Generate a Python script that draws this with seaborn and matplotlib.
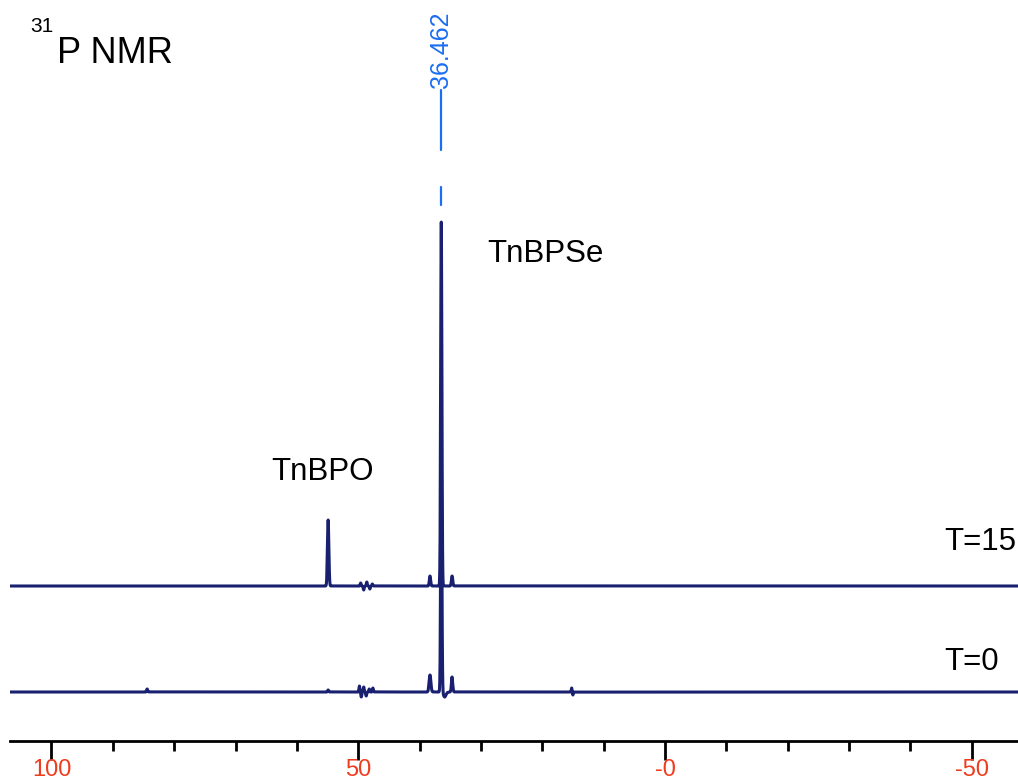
import numpy as np
import pandas as pd
import matplotlib
matplotlib.use("Agg")
import matplotlib.pyplot as plt
import seaborn as sns

# Peak tables (chemical shift in ppm, intensity, half-width in ppm)
t15_shift = [54.9, 49.6, 49.1, 48.6, 48.1, 47.7, 38.3, 36.462, 34.7]
t15_height = [66, 3, -4, 4, -3, 2, 10, 364, 10]
t15_width = [0.16, 0.1, 0.1, 0.1, 0.1, 0.1, 0.15, 0.14, 0.15]

t0_shift = [84.4, 54.9, 49.8, 49.5, 49.1, 48.7, 48.2, 47.6, 38.3, 36.462, 35.9, 34.7, 15.2, 15.0]
t0_height = [3, 2, 6, -5, 5, -4, 3, 4, 17, 232, -5, 15, 4, -3]
t0_width = [0.12, 0.12, 0.1, 0.1, 0.1, 0.1, 0.1, 0.1, 0.2, 0.14, 0.3, 0.15, 0.08, 0.08]

# Vertical offsets of the stacked traces
offsets = {"T=15": 155, "T=0": 49}

major_ticks = [100, 50, 0, -50]
major_labels = ["100", "50", "-0", "-50"]

ppm = np.arange(-58.0, 107.0, 0.01)


def spectrum(shifts, heights, widths, base):
    y = np.full_like(ppm, float(base))
    for x0, h, w in zip(shifts, heights, widths):
        y += h * np.exp(-((ppm - x0) / w) ** 2)
    return y


df = pd.concat([
    pd.DataFrame({"ppm": ppm, "signal": spectrum(t15_shift, t15_height, t15_width, offsets["T=15"]), "trace": "T=15"}),
    pd.DataFrame({"ppm": ppm, "signal": spectrum(t0_shift, t0_height, t0_width, offsets["T=0"]), "trace": "T=0"}),
])

sns.set_style("white")
plt.rcParams["font.family"] = ["Liberation Sans", "DejaVu Sans"]
plt.rcParams["text.color"] = "black"

fig = plt.figure(figsize=(10.18, 7.82), dpi=100)
ax = fig.add_axes([10 / 1018, 41 / 782, 1008 / 1018, 741 / 782])

navy = "#18206f"
sns.lineplot(data=df, x="ppm", y="signal", hue="trace", palette=[navy, navy],
             estimator=None, sort=False, linewidth=2.2, legend=False, ax=ax)

ax.set_xlim(106.76, -57.54)
ax.set_ylim(0, 741)
ax.set_xlabel("")
ax.set_ylabel("")
ax.set_yticks([])
for side in ("left", "right", "top"):
    ax.spines[side].set_visible(False)
ax.spines["bottom"].set_linewidth(2)
ax.spines["bottom"].set_color("black")

ax.set_xticks(major_ticks)
ax.set_xticklabels(major_labels)
ax.set_xticks(np.arange(-50, 101, 10), minor=True)
ax.tick_params(axis="x", which="major", direction="out", length=14, width=2,
               color="black", labelsize=17, labelcolor="#f03c1e", pad=-1, bottom=True)
ax.tick_params(axis="x", which="minor", direction="out", length=7, width=2,
               color="black", bottom=True)

# Peak pick annotation
blue = "#1a6ef0"
peak = t15_shift[t15_height.index(max(t15_height))]
ax.text(peak, 653, f"{peak:.3f}", rotation=90, color=blue, fontsize=18,
        ha="center", va="bottom")
ax.plot([peak, peak], [591, 651], color=blue, linewidth=1.6)
ax.plot([peak, peak], [536, 554], color=blue, linewidth=1.6)

# Labels
ax.text(103.5, 709, "31", fontsize=15, ha="left", va="baseline")
ax.text(99.1, 678, "P NMR", fontsize=26, ha="left", va="baseline")
ax.text(29.0, 479, "TnBPSe", fontsize=22.5, ha="left", va="baseline")
ax.text(64.1, 261, "TnBPO", fontsize=22.5, ha="left", va="baseline")
ax.text(-45.5, 191, "T=15", fontsize=22.5, ha="left", va="baseline")
ax.text(-45.5, 71, "T=0", fontsize=22.5, ha="left", va="baseline")

fig.savefig("out.png", dpi=100)
